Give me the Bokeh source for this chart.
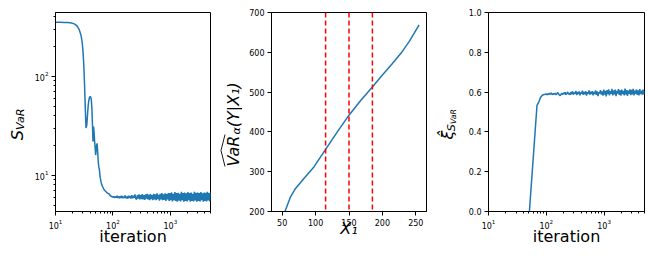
import math
from bokeh.plotting import figure
from bokeh.layouts import row
from bokeh.models import Range1d, FixedTicker, PrintfTickFormatter, Span
from bokeh.core.properties import value
from bokeh.embed import file_html
from bokeh.resources import INLINE

# ---------------- data ----------------
# panel 1: S_VaR vs iteration (log-log)
iters_s_early = [10, 12, 14, 16, 18, 20, 22, 24, 26, 28,
                 29, 30, 31, 32, 33, 34, 35, 36, 37, 38,
                 39, 40, 41, 42, 43, 44, 45, 46, 47, 48,
                 49, 50, 51, 52, 53, 54, 55, 56, 57, 58,
                 60, 62, 64, 66, 69, 72, 76, 80, 85, 90, 95]
s_early = [352, 352, 351, 350, 348, 343, 335, 320, 295, 255,
           225, 185, 135, 85, 48, 30, 32, 40, 50, 57,
           61, 62, 62, 58, 48, 33, 22, 31, 27, 22,
           19, 16, 18, 20, 21, 18, 15, 13, 12, 11.5,
           9.5, 8.6, 8.0, 7.7, 7.3, 7.0, 6.8, 6.6, 6.5, 6.2, 6.1]

iters_tail = [100, 103, 107, 110, 114, 118, 122, 126, 130, 134,
              139, 143, 148, 153, 158, 163, 169, 174, 180, 186,
              192, 199, 205, 212, 219, 227, 234, 242, 250, 258,
              267, 276, 285, 294, 304, 314, 325, 335, 347, 358,
              370, 382, 395, 408, 422, 436, 450, 465, 481, 497,
              513, 530, 548, 566, 585, 604, 624, 645, 666, 688,
              711, 735, 759, 784, 810, 837, 865, 894, 923, 954,
              986, 1018, 1052, 1087, 1123, 1160, 1199, 1238, 1280, 1322,
              1366, 1411, 1458, 1506, 1556, 1608, 1661, 1716, 1773, 1832,
              1893, 1955, 2020, 2087, 2156, 2228, 2302, 2378, 2457, 2538,
              2622, 2709, 2799, 2892, 2988, 3087, 3189, 3295, 3404, 3517,
              3634, 3754, 3879, 4007, 4140, 4277, 4419, 4566, 4717, 4873, 5000]
s_tail = [6.0, 6.1, 5.9, 6.1, 5.95, 6.2, 5.9, 6.1, 5.85, 6.15,
          5.9, 6.2, 5.85, 6.1, 5.9, 6.25, 5.85, 6.1, 5.8, 6.2,
          5.9, 6.15, 5.8, 6.3, 5.85, 6.2, 5.9, 6.4, 5.8,
          5.7, 6.3, 5.8, 6.4, 5.7, 6.3, 5.75, 6.45, 5.7, 6.3,
          5.65, 6.4, 5.8, 6.5, 5.7, 6.35, 5.6, 6.45, 5.75, 6.3,
          5.6, 6.5, 5.7, 6.4, 5.6, 6.55, 5.75, 6.35, 5.55, 6.5,
          5.7, 6.6, 5.6, 6.4, 5.65, 6.55, 5.5, 6.45, 5.7, 6.6,
          5.5, 6.6, 5.6, 6.7, 5.45, 6.5, 5.6, 6.75, 5.5, 6.6,
          5.4, 6.65, 5.55, 6.5, 5.45, 6.8, 5.6, 6.6, 5.4, 6.7,
          5.5, 6.55, 5.45, 6.75, 5.6, 6.6, 5.4, 6.7, 5.5, 6.5,
          5.45, 6.8, 5.55, 6.65, 5.4, 6.7, 5.5, 6.6, 5.45, 6.75,
          5.6, 6.55, 5.4, 6.7, 5.5, 6.65, 5.45, 6.8, 5.55, 6.6,
          5.45, 6.7]

# panel 2: VaR_alpha(Y|X1) vs X1
x1_vals = [42, 48, 55, 62.5, 70, 82.5, 97.5, 115, 132.5, 150, 167.5, 185, 200, 215, 228, 240, 255]
var_vals = [130, 170, 204, 237, 258, 283, 312, 356, 400, 442, 479, 513, 543, 572, 598, 627, 669]
split_points = [115, 150, 185]
x1_ticks = [50, 100, 150, 200, 250]
var_ticks = [200, 300, 400, 500, 600, 700]

# panel 3: xi_hat vs iteration
iters_xi_early = [51, 69, 74, 79, 85, 92]
xi_early = [0.0, 0.533, 0.55, 0.572, 0.584, 0.588]
xi_tail = [0.590, 0.586, 0.592, 0.588, 0.594, 0.589, 0.596, 0.590, 0.587, 0.593,
           0.589, 0.595, 0.586, 0.592, 0.598, 0.590, 0.585, 0.582, 0.589, 0.594,
           0.588, 0.596, 0.590, 0.599, 0.587, 0.594, 0.601, 0.589, 0.595,
           0.586, 0.600, 0.590, 0.604, 0.587, 0.598, 0.592, 0.606, 0.585, 0.600,
           0.590, 0.603, 0.584, 0.598, 0.593, 0.607, 0.586, 0.601, 0.589, 0.604,
           0.583, 0.600, 0.592, 0.608, 0.587, 0.602, 0.590, 0.605, 0.584, 0.601,
           0.591, 0.609, 0.586, 0.603, 0.580, 0.600, 0.593, 0.610, 0.587, 0.604,
           0.582, 0.612, 0.588, 0.606, 0.578, 0.610, 0.590, 0.614, 0.584, 0.605,
           0.592, 0.616, 0.583, 0.608, 0.589, 0.612, 0.580, 0.606, 0.593, 0.615,
           0.586, 0.609, 0.582, 0.613, 0.590, 0.606, 0.584, 0.617, 0.588, 0.610,
           0.581, 0.607, 0.592, 0.614, 0.585, 0.611, 0.589, 0.616, 0.583, 0.608,
           0.591, 0.613, 0.586, 0.609, 0.584, 0.615, 0.590, 0.607, 0.587, 0.612,
           0.589, 0.606]
xi_ticks = [0.0, 0.2, 0.4, 0.6, 0.8, 1.0]

# ---------------- styling ----------------
BLUE = "#1f77b4"
FONT = "DejaVu Sans"
TOP, FRAME_H, BOTTOM = 12, 199, 47
H = TOP + FRAME_H + BOTTOM  # total height of every figure
TXT_DX = -5  # baseline correction for rotated text


def style(p, label_standoff):
    p.outline_line_color = "black"
    p.outline_line_width = 1
    p.outline_line_alpha = 1
    p.xgrid.visible = False
    p.ygrid.visible = False
    p.background_fill_color = "white"
    p.border_fill_color = "white"
    for ax in list(p.xaxis) + list(p.yaxis):
        ax.major_label_text_font = FONT
        ax.major_label_text_font_size = "8px"
        ax.major_label_text_color = "black"
        ax.major_tick_in = 0
        ax.major_tick_out = 4
        ax.minor_tick_in = 0
        ax.minor_tick_out = 2
        ax.axis_line_color = "black"
        ax.major_tick_line_color = "black"
        ax.minor_tick_line_color = "black"
        ax.axis_label_text_font = FONT
        ax.axis_label_text_font_size = "16px"
        ax.axis_label_text_font_style = "normal"
        ax.axis_label_text_color = "black"
        ax.major_label_standoff = 3
        ax.axis_label_standoff = label_standoff


def label_fig(x0, width, items, hat=None):
    """A blank strip holding a rotated y-axis title (items in page coordinates)."""
    f = figure(frame_width=width, frame_height=H, x_range=Range1d(0, width),
               y_range=Range1d(0, H), x_axis_location=None, y_axis_location=None,
               toolbar_location=None, output_backend="svg", min_border=0)
    f.grid.visible = False
    f.outline_line_color = None
    f.background_fill_color = "white"
    f.border_fill_color = "white"
    for (px, py, txt, size) in items:
        f.text(x=[px - x0 + TXT_DX], y=[H - py], text=[txt], angle=math.pi / 2,
               text_font=value(FONT), text_font_size=value(f"{size}px"),
               text_font_style="italic", text_align="left",
               text_baseline="alphabetic", text_color="black")
    if hat is not None:
        hx, hy = hat
        f.line(x=[v - x0 for v in hx], y=[H - v for v in hy], line_color="black",
               line_width=0.9)
    return f


common = dict(frame_height=FRAME_H, output_backend="svg", toolbar_location=None,
              min_border_top=TOP, min_border_bottom=BOTTOM)

# ---- panel 1 ----
L1 = label_fig(0, 31, [(21.5, 127.7, "S", 16), (24.5, 117.5, "VaR", 11.2)])
p1 = figure(x_axis_type="log", y_axis_type="log",
            x_range=Range1d(10, 5000), y_range=Range1d(4.3, 442),
            frame_width=155, min_border_left=22, min_border_right=3, **common)
style(p1, -5)
p1.line(iters_s_early + iters_tail, s_early + s_tail, line_color=BLUE, line_width=1.5)
p1.xaxis.axis_label = "iteration"

# ---- panel 2 ----
L2 = label_fig(211, 29, [(235.7, 154.0, "VaR", 16), (239.0, 122.1, "α", 11.2),
                         (235.7, 114.7, "(Y|X₁)", 16)],
               hat=([222.5, 218.5, 222.5], [154.0, 138.0, 122.0]))
p2 = figure(x_range=Range1d(34, 266), y_range=Range1d(200, 700),
            frame_width=155, min_border_left=29, min_border_right=6, **common)
style(p2, -10)
p2.xaxis.ticker = FixedTicker(ticks=x1_ticks)
p2.yaxis.ticker = FixedTicker(ticks=var_ticks)
p2.line(x1_vals, var_vals, line_color=BLUE, line_width=1.5)
for sp in split_points:
    p2.add_layout(Span(location=sp, dimension="height", line_color="red",
                       line_dash="5 3", line_width=1.5))
p2.xaxis.axis_label = "X₁"
p2.xaxis.axis_label_text_font_style = "italic"

# ---- panel 3 ----
L3 = label_fig(430, 33, [(450.0, 127.0, "ξ\u0302", 16), (453.5, 118.7, "S", 11.2),
                         (455.5, 111.6, "VaR", 7.8)])
p3 = figure(x_axis_type="log", x_range=Range1d(10, 5000), y_range=Range1d(0, 1),
            frame_width=156, min_border_left=20, min_border_right=1, **common)
style(p3, -5)
p3.yaxis.ticker = FixedTicker(ticks=xi_ticks)
p3.yaxis.formatter = PrintfTickFormatter(format="%.1f")
p3.line(iters_xi_early + iters_tail, xi_early + xi_tail, line_color=BLUE, line_width=1.5)
p3.xaxis.axis_label = "iteration"

layout = row(L1, p1, L2, p2, L3, p3)
open("out.html", "w").write(file_html(layout, INLINE))
